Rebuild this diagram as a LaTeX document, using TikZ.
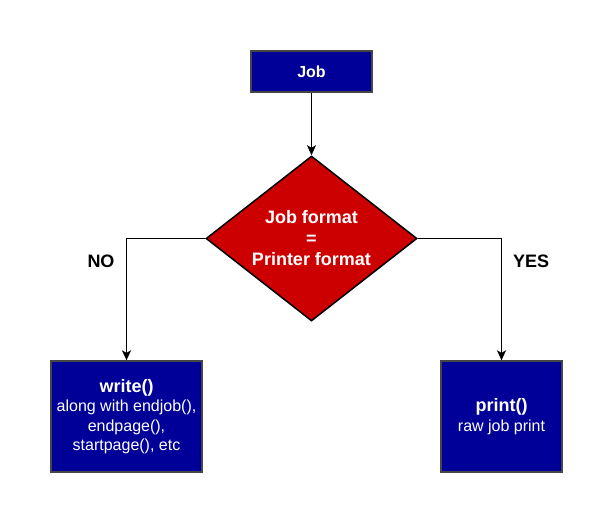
\documentclass[tikz,border=0pt]{standalone}
\usepackage{fontspec}
\setmainfont{Liberation Sans}
\usetikzlibrary{shapes.geometric,arrows.meta}
\definecolor{boxblue}{RGB}{0,0,153}
\definecolor{boxred}{RGB}{204,0,0}
\definecolor{boxline}{RGB}{70,70,70}
\tikzset{
	bluebox/.style={draw=boxline,fill=boxblue,text=white,line width=1.3pt,inner sep=0,align=center},
	decision/.style={draw=black,fill=boxred,text=white,line width=1.5pt,diamond,shape aspect=1.28,inner sep=0,align=center},
	flow/.style={draw=black,line width=1.6pt,-{Stealth[length=10pt,width=9pt,inset=2.5pt]}},
}
\begin{document}
\begin{tikzpicture}[x=1pt,y=-1pt]
	\useasboundingbox (0,0) rectangle (612,522);
	\node[bluebox,minimum width=121pt,minimum height=41pt,font=\bfseries\fontsize{16}{19}\selectfont] (job) at (311.5,71.5) {Job};
	\node[decision,minimum width=211pt,minimum height=165pt,font=\bfseries\fontsize{18}{21}\selectfont] (format) at (311.5,238.5) {Job format\\=\\Printer format};
	\node[bluebox,minimum width=151pt,minimum height=111pt,font=\fontsize{16}{19.5}\selectfont] (write) at (126.5,416.5) {{\bfseries\fontsize{18}{21}\selectfont write()}\\along with endjob(),\\endpage(),\\startpage(), etc};
	\node[bluebox,minimum width=121pt,minimum height=111pt,font=\fontsize{16}{19.5}\selectfont] (print) at (501.5,416.5) {{\bfseries\fontsize{18}{21}\selectfont print()}\\raw job print};
	\node[font=\bfseries\fontsize{18}{21}\selectfont] (no) at (101,261) {NO};
	\node[font=\bfseries\fontsize{18}{21}\selectfont] (yes) at (531,261) {YES};
	\draw[flow] (job) -- (format);
	\draw[flow] (format.west) -| (write.north);
	\draw[flow] (format.east) -| (print.north);
\end{tikzpicture}
\end{document}
